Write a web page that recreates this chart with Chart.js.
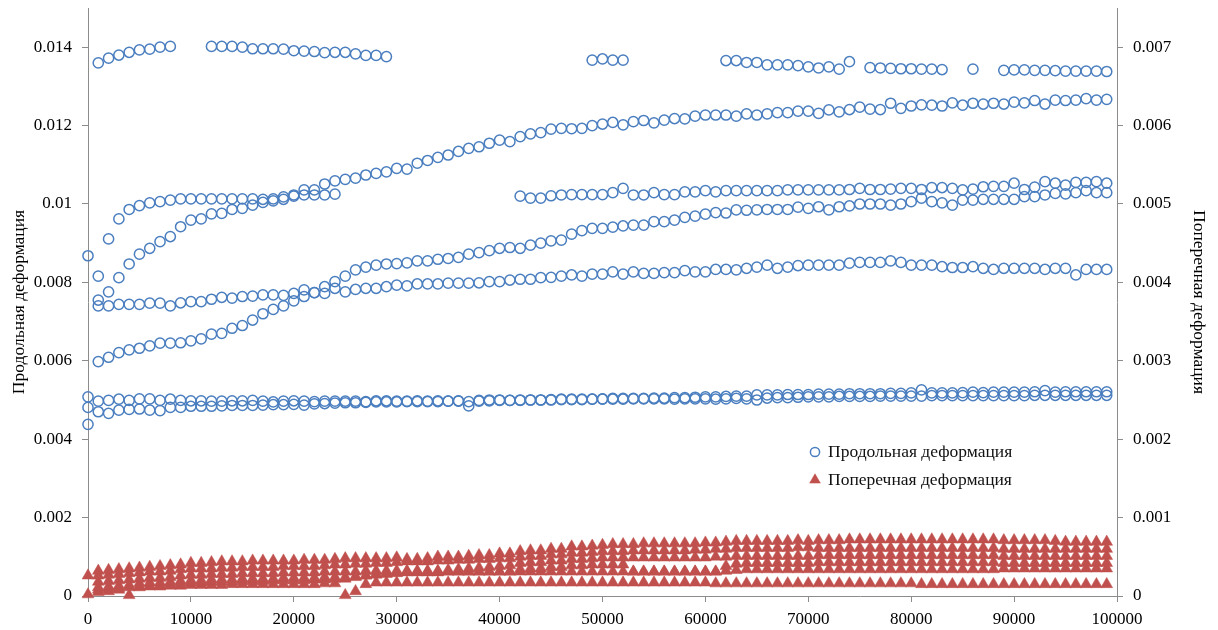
<!DOCTYPE html>
<html lang="ru">
<head>
<meta charset="utf-8">
<title>Продольная и поперечная деформация</title>
<script src="https://cdn.jsdelivr.net/npm/chart.js"></script>
<style>
  html, body { margin: 0; padding: 0; background: #ffffff; }
  canvas { display: block; }
</style>
</head>
<body>
<canvas id="strain" width="1218" height="630"></canvas>
<script>
// Number of load cycles (x axis)
const cycles = [
  0, 1000, 2000, 3000, 4000, 5000, 6000, 7000, 8000, 9000,
  10000, 11000, 12000, 13000, 14000, 15000, 16000, 17000, 18000, 19000,
  20000, 21000, 22000, 23000, 24000, 25000, 26000, 27000, 28000, 29000,
  30000, 31000, 32000, 33000, 34000, 35000, 36000, 37000, 38000, 39000,
  40000, 41000, 42000, 43000, 44000, 45000, 46000, 47000, 48000, 49000,
  50000, 51000, 52000, 53000, 54000, 55000, 56000, 57000, 58000, 59000,
  60000, 61000, 62000, 63000, 64000, 65000, 66000, 67000, 68000, 69000,
  70000, 71000, 72000, 73000, 74000, 75000, 76000, 77000, 78000, 79000,
  80000, 81000, 82000, 83000, 84000, 85000, 86000, 87000, 88000, 89000,
  90000, 91000, 92000, 93000, 94000, 95000, 96000, 97000, 98000, 99000
];

const xTicks = [0, 10000, 20000, 30000, 40000, 50000, 60000, 70000, 80000, 90000, 100000];
const leftTicks = [0, 0.002, 0.004, 0.006, 0.008, 0.01, 0.012, 0.014];
const rightTicks = [0, 0.001, 0.002, 0.003, 0.004, 0.005, 0.006, 0.007];

// Longitudinal strain, one array per specimen (null = no reading)
const longStrain1 = [
  null, 0.01360, 0.01372, 0.01380, 0.01387, 0.01393, 0.01395, 0.01400, 0.01402, null,
  null, null, 0.01402, 0.01402, 0.01402, 0.01400, 0.01396, 0.01396, 0.01396, 0.01395,
  0.01391, 0.01390, 0.01389, 0.01386, 0.01387, 0.01387, 0.01383, 0.01379, 0.01379, 0.01376,
  null, null, null, null, null, null, null, null, null, null,
  null, null, null, null, null, null, null, null, null, 0.01367,
  0.01370, 0.01367, 0.01367, null, null, null, null, null, null, null,
  null, null, 0.01366, 0.01366, 0.01361, 0.01361, 0.01355, 0.01355, 0.01355, 0.01353,
  0.01350, 0.01347, 0.01350, 0.01344, 0.01363, null, 0.01348, 0.01347, 0.01346, 0.01345,
  0.01345, 0.01344, 0.01344, 0.01343, null, null, 0.01344, null, null, 0.01341,
  0.01342, 0.01342, 0.01341, 0.01341, 0.01340, 0.01339, 0.01339, 0.01339, 0.01339, 0.01338
];
const longStrain2 = [
  0.00868, 0.00816, 0.00911, 0.00962, 0.00986, 0.00996, 0.01003, 0.01006, 0.01010, 0.01013,
  0.01013, 0.01013, 0.01013, 0.01013, 0.01013, 0.01013, 0.01013, 0.01012, 0.01013, 0.01018,
  0.01020, 0.01023, 0.01023, 0.01023, 0.01025, null, null, null, null, null,
  null, null, null, null, null, null, null, null, null, null,
  null, null, 0.01020, 0.01015, 0.01015, 0.01021, 0.01023, 0.01024, 0.01024, 0.01024,
  0.01024, 0.01029, 0.01040, 0.01023, 0.01023, 0.01029, 0.01024, 0.01024, 0.01031, 0.01031,
  0.01034, 0.01031, 0.01034, 0.01034, 0.01034, 0.01034, 0.01034, 0.01034, 0.01036, 0.01036,
  0.01036, 0.01036, 0.01036, 0.01036, 0.01037, 0.01040, 0.01037, 0.01037, 0.01038, 0.01040,
  0.01040, 0.01037, 0.01042, 0.01042, 0.01040, 0.01036, 0.01038, 0.01044, 0.01045, 0.01045,
  0.01053, 0.01037, 0.01043, 0.01057, 0.01053, 0.01048, 0.01055, 0.01055, 0.01057, 0.01053
];
const longStrain3 = [
  null, 0.00755, 0.00776, 0.00812, 0.00847, 0.00872, 0.00887, 0.00904, 0.00917, 0.00942,
  0.00959, 0.00962, 0.00975, 0.00976, 0.00986, 0.00989, 0.00997, 0.01004, 0.01008, 0.01012,
  0.01023, 0.01036, 0.01036, 0.01051, 0.01059, 0.01063, 0.01066, 0.01074, 0.01078, 0.01082,
  0.01091, 0.01089, 0.01104, 0.01111, 0.01119, 0.01125, 0.01134, 0.01142, 0.01146, 0.01155,
  0.01163, 0.01159, 0.01172, 0.01179, 0.01182, 0.01191, 0.01193, 0.01192, 0.01193, 0.01200,
  0.01204, 0.01208, 0.01202, 0.01210, 0.01213, 0.01207, 0.01214, 0.01218, 0.01217, 0.01224,
  0.01227, 0.01227, 0.01227, 0.01224, 0.01230, 0.01227, 0.01230, 0.01233, 0.01233, 0.01237,
  0.01237, 0.01231, 0.01240, 0.01235, 0.01241, 0.01247, 0.01242, 0.01241, 0.01257, 0.01244,
  0.01250, 0.01253, 0.01252, 0.01250, 0.01258, 0.01252, 0.01257, 0.01255, 0.01257, 0.01255,
  0.01260, 0.01258, 0.01264, 0.01255, 0.01265, 0.01264, 0.01265, 0.01269, 0.01265, 0.01267
];
const longStrain4 = [
  null, 0.00740, 0.00740, 0.00744, 0.00744, 0.00744, 0.00747, 0.00747, 0.00740, 0.00748,
  0.00751, 0.00751, 0.00757, 0.00762, 0.00760, 0.00764, 0.00765, 0.00768, 0.00768, 0.00767,
  0.00772, 0.00781, 0.00774, 0.00772, 0.00785, 0.00776, 0.00782, 0.00785, 0.00785, 0.00789,
  0.00793, 0.00791, 0.00796, 0.00796, 0.00796, 0.00798, 0.00798, 0.00798, 0.00799, 0.00802,
  0.00802, 0.00806, 0.00808, 0.00808, 0.00812, 0.00813, 0.00816, 0.00819, 0.00816, 0.00821,
  0.00821, 0.00827, 0.00821, 0.00827, 0.00823, 0.00823, 0.00825, 0.00825, 0.00830, 0.00827,
  0.00827, 0.00833, 0.00833, 0.00832, 0.00836, 0.00839, 0.00844, 0.00836, 0.00839, 0.00843,
  0.00844, 0.00844, 0.00844, 0.00844, 0.00849, 0.00851, 0.00851, 0.00851, 0.00855, 0.00851,
  0.00844, 0.00844, 0.00844, 0.00840, 0.00838, 0.00838, 0.00840, 0.00836, 0.00833, 0.00836,
  0.00836, 0.00836, 0.00836, 0.00833, 0.00836, 0.00836, 0.00819, 0.00833, 0.00833, 0.00833
];
const longStrain5 = [
  null, 0.00598, 0.00609, 0.00621, 0.00628, 0.00632, 0.00638, 0.00645, 0.00645, 0.00646,
  0.00651, 0.00656, 0.00668, 0.00670, 0.00683, 0.00690, 0.00704, 0.00720, 0.00731, 0.00740,
  0.00753, 0.00764, 0.00774, 0.00789, 0.00802, 0.00816, 0.00832, 0.00839, 0.00844, 0.00847,
  0.00848, 0.00850, 0.00855, 0.00855, 0.00859, 0.00861, 0.00864, 0.00872, 0.00876, 0.00881,
  0.00887, 0.00889, 0.00887, 0.00895, 0.00900, 0.00906, 0.00908, 0.00923, 0.00932, 0.00938,
  0.00938, 0.00941, 0.00944, 0.00946, 0.00946, 0.00955, 0.00955, 0.00959, 0.00966, 0.00969,
  0.00974, 0.00978, 0.00977, 0.00985, 0.00984, 0.00985, 0.00986, 0.00986, 0.00986, 0.00992,
  0.00989, 0.00993, 0.00985, 0.00993, 0.00995, 0.01000, 0.01000, 0.01000, 0.00997, 0.01000,
  0.01006, 0.01015, 0.01006, 0.01003, 0.00997, 0.01010, 0.01010, 0.01012, 0.01012, 0.01012,
  0.01012, 0.01019, 0.01019, 0.01023, 0.01027, 0.01026, 0.01029, 0.01034, 0.01029, 0.01029
];
const longStrain6 = [
  0.00508, 0.00497, 0.00499, 0.00502, 0.00499, 0.00503, 0.00503, 0.00499, 0.00502, 0.00499,
  0.00498, 0.00498, 0.00497, 0.00497, 0.00498, 0.00498, 0.00499, 0.00497, 0.00495, 0.00497,
  0.00498, 0.00497, 0.00496, 0.00497, 0.00497, 0.00497, 0.00497, 0.00496, 0.00498, 0.00498,
  0.00497, 0.00497, 0.00498, 0.00497, 0.00498, 0.00497, 0.00498, 0.00496, 0.00499, 0.00500,
  0.00500, 0.00499, 0.00500, 0.00500, 0.00500, 0.00501, 0.00502, 0.00502, 0.00502, 0.00502,
  0.00503, 0.00504, 0.00504, 0.00504, 0.00504, 0.00505, 0.00505, 0.00506, 0.00506, 0.00507,
  0.00508, 0.00508, 0.00509, 0.00510, 0.00510, 0.00513, 0.00513, 0.00513, 0.00514, 0.00514,
  0.00514, 0.00515, 0.00515, 0.00515, 0.00516, 0.00516, 0.00516, 0.00516, 0.00517, 0.00517,
  0.00518, 0.00526, 0.00518, 0.00518, 0.00518, 0.00519, 0.00520, 0.00519, 0.00520, 0.00520,
  0.00520, 0.00520, 0.00521, 0.00524, 0.00520, 0.00521, 0.00521, 0.00521, 0.00521, 0.00521
];
const longStrain7 = [
  0.00481, 0.00470, 0.00466, 0.00474, 0.00476, 0.00477, 0.00474, 0.00473, 0.00481, 0.00481,
  0.00484, 0.00484, 0.00484, 0.00485, 0.00486, 0.00486, 0.00486, 0.00487, 0.00488, 0.00488,
  0.00489, 0.00487, 0.00490, 0.00491, 0.00492, 0.00493, 0.00493, 0.00494, 0.00495, 0.00495,
  0.00495, 0.00496, 0.00496, 0.00496, 0.00496, 0.00497, 0.00497, 0.00485, 0.00497, 0.00498,
  0.00499, 0.00499, 0.00499, 0.00500, 0.00500, 0.00500, 0.00501, 0.00501, 0.00501, 0.00502,
  0.00502, 0.00502, 0.00502, 0.00503, 0.00503, 0.00503, 0.00503, 0.00502, 0.00503, 0.00503,
  0.00503, 0.00502, 0.00503, 0.00504, 0.00503, 0.00500, 0.00505, 0.00506, 0.00506, 0.00507,
  0.00508, 0.00508, 0.00508, 0.00509, 0.00509, 0.00509, 0.00509, 0.00510, 0.00510, 0.00510,
  0.00510, 0.00510, 0.00511, 0.00511, 0.00511, 0.00511, 0.00511, 0.00511, 0.00511, 0.00511,
  0.00511, 0.00511, 0.00512, 0.00512, 0.00512, 0.00512, 0.00512, 0.00512, 0.00512, 0.00512
];
const longStrain8 = [0.00438];

// Transverse strain, one array per specimen (right axis)
const transStrain1 = [
  0.00026, 0.00032, 0.00033, 0.00034, 0.00035, 0.00036, 0.00037, 0.00038, 0.00039, 0.00040,
  0.00042, 0.00042, 0.00043, 0.00044, 0.00044, 0.00044, 0.00045, 0.00045, 0.00045, 0.00045,
  0.00045, 0.00046, 0.00046, 0.00046, 0.00047, 0.00048, 0.00048, 0.00048, 0.00048, 0.00048,
  0.00049, 0.00047, 0.00047, 0.00048, 0.00050, 0.00050, 0.00050, 0.00051, 0.00052, 0.00052,
  0.00054, 0.00054, 0.00057, 0.00058, 0.00058, 0.00060, 0.00060, 0.00063, 0.00063, 0.00064,
  0.00065, 0.00066, 0.00066, 0.00066, 0.00067, 0.00067, 0.00067, 0.00067, 0.00067, 0.00067,
  0.00068, 0.00068, 0.00069, 0.00070, 0.00070, 0.00070, 0.00070, 0.00070, 0.00070, 0.00071,
  0.00070, 0.00071, 0.00071, 0.00071, 0.00072, 0.00072, 0.00072, 0.00072, 0.00072, 0.00072,
  0.00072, 0.00072, 0.00072, 0.00072, 0.00072, 0.00072, 0.00072, 0.00072, 0.00072, 0.00071,
  0.00071, 0.00071, 0.00071, 0.00071, 0.00070, 0.00069, 0.00069, 0.00069, 0.00069, 0.00069
];
const transStrain2 = [
  null, 0.00026, 0.00027, 0.00028, 0.00029, 0.00030, 0.00031, 0.00031, 0.00032, 0.00034,
  0.00035, 0.00035, 0.00035, 0.00036, 0.00036, 0.00037, 0.00037, 0.00037, 0.00037, 0.00038,
  0.00038, 0.00038, 0.00038, 0.00039, 0.00040, 0.00040, 0.00041, 0.00041, 0.00042, 0.00042,
  0.00043, 0.00044, 0.00044, 0.00044, 0.00045, 0.00045, 0.00046, 0.00046, 0.00047, 0.00047,
  0.00048, 0.00048, 0.00050, 0.00051, 0.00051, 0.00053, 0.00053, 0.00055, 0.00055, 0.00056,
  0.00057, 0.00057, 0.00057, 0.00058, 0.00058, 0.00058, 0.00058, 0.00058, 0.00058, 0.00059,
  0.00059, 0.00060, 0.00060, 0.00061, 0.00061, 0.00061, 0.00061, 0.00061, 0.00061, 0.00062,
  0.00062, 0.00061, 0.00061, 0.00061, 0.00061, 0.00061, 0.00061, 0.00061, 0.00061, 0.00061,
  0.00061, 0.00061, 0.00061, 0.00061, 0.00061, 0.00061, 0.00061, 0.00061, 0.00061, 0.00060,
  0.00060, 0.00060, 0.00060, 0.00060, 0.00060, 0.00060, 0.00060, 0.00060, 0.00060, 0.00060
];
const transStrain3 = [
  null, 0.00018, 0.00019, 0.00020, 0.00021, 0.00022, 0.00023, 0.00023, 0.00024, 0.00026,
  0.00027, 0.00027, 0.00028, 0.00028, 0.00028, 0.00029, 0.00029, 0.00029, 0.00029, 0.00030,
  0.00030, 0.00030, 0.00030, 0.00031, 0.00031, 0.00031, 0.00031, 0.00032, 0.00032, 0.00032,
  0.00032, 0.00032, 0.00032, 0.00032, 0.00032, 0.00033, 0.00034, 0.00035, 0.00036, 0.00037,
  0.00038, 0.00039, 0.00042, 0.00043, 0.00043, 0.00045, 0.00045, 0.00047, 0.00047, 0.00048,
  0.00049, 0.00049, 0.00049, 0.00049, 0.00049, 0.00049, 0.00049, 0.00049, 0.00049, 0.00049,
  0.00049, 0.00050, 0.00050, 0.00051, 0.00051, 0.00051, 0.00051, 0.00051, 0.00051, 0.00051,
  0.00051, 0.00052, 0.00052, 0.00052, 0.00052, 0.00052, 0.00052, 0.00052, 0.00052, 0.00052,
  0.00052, 0.00052, 0.00052, 0.00052, 0.00052, 0.00052, 0.00052, 0.00052, 0.00052, 0.00051,
  0.00051, 0.00051, 0.00051, 0.00051, 0.00051, 0.00051, 0.00051, 0.00051, 0.00051, 0.00051
];
const transStrain4 = [
  null, 0.00011, 0.00012, 0.00013, 0.00014, 0.00016, 0.00017, 0.00017, 0.00018, 0.00019,
  0.00020, 0.00020, 0.00021, 0.00021, 0.00021, 0.00022, 0.00022, 0.00022, 0.00022, 0.00023,
  0.00023, 0.00023, 0.00023, 0.00024, 0.00024, 0.00024, 0.00025, 0.00026, 0.00027, 0.00028,
  0.00029, 0.00030, 0.00030, 0.00030, 0.00030, 0.00031, 0.00031, 0.00031, 0.00031, 0.00031,
  0.00031, 0.00031, 0.00034, 0.00035, 0.00035, 0.00037, 0.00037, 0.00039, 0.00039, 0.00040,
  0.00040, 0.00040, 0.00040, 0.00031, 0.00031, 0.00031, 0.00031, 0.00031, 0.00031, 0.00031,
  0.00031, 0.00031, 0.00038, 0.00041, 0.00042, 0.00042, 0.00042, 0.00042, 0.00042, 0.00042,
  0.00042, 0.00043, 0.00043, 0.00043, 0.00043, 0.00043, 0.00043, 0.00043, 0.00043, 0.00043,
  0.00043, 0.00043, 0.00043, 0.00043, 0.00043, 0.00043, 0.00043, 0.00043, 0.00043, 0.00042,
  0.00042, 0.00042, 0.00042, 0.00042, 0.00042, 0.00042, 0.00042, 0.00042, 0.00042, 0.00042
];
const transStrain5 = [
  null, 0.00008, 0.00009, 0.00010, 0.00011, 0.00012, 0.00013, 0.00014, 0.00015, 0.00016,
  0.00017, 0.00017, 0.00018, 0.00018, 0.00018, 0.00019, 0.00019, 0.00019, 0.00020, 0.00020,
  0.00020, 0.00020, 0.00021, 0.00021, 0.00022, 0.00022, 0.00024, 0.00026, 0.00028, 0.00029,
  0.00030, 0.00031, 0.00031, 0.00031, 0.00031, 0.00031, 0.00031, 0.00031, 0.00031, 0.00031,
  0.00031, 0.00031, 0.00031, 0.00031, 0.00031, 0.00031, 0.00031, 0.00031, 0.00031, 0.00031,
  0.00031, 0.00031, 0.00031, 0.00031, 0.00031, 0.00031, 0.00031, 0.00031, 0.00031, 0.00031,
  0.00031, 0.00031, 0.00032, 0.00033, 0.00034, 0.00034, 0.00034, 0.00034, 0.00034, 0.00034,
  0.00034, 0.00034, 0.00034, 0.00034, 0.00034, 0.00034, 0.00034, 0.00034, 0.00034, 0.00034,
  0.00034, 0.00034, 0.00034, 0.00034, 0.00034, 0.00034, 0.00034, 0.00034, 0.00034, 0.00035,
  0.00035, 0.00035, 0.00035, 0.00035, 0.00035, 0.00035, 0.00035, 0.00035, 0.00035, 0.00035
];
const transStrain6 = [
  0.00002, 0.00005, 0.00006, 0.00008, 0.00001, 0.00011, 0.00012, 0.00012, 0.00013, 0.00013,
  0.00014, 0.00014, 0.00014, 0.00014, 0.00015, 0.00015, 0.00015, 0.00015, 0.00015, 0.00015,
  0.00015, 0.00015, 0.00015, 0.00016, 0.00016, 0.00001, 0.00006, 0.00015, 0.00017, 0.00017,
  0.00017, 0.00017, 0.00017, 0.00017, 0.00017, 0.00017, 0.00017, 0.00017, 0.00017, 0.00017,
  0.00017, 0.00017, 0.00017, 0.00017, 0.00017, 0.00017, 0.00017, 0.00017, 0.00017, 0.00017,
  0.00017, 0.00017, 0.00017, 0.00017, 0.00017, 0.00017, 0.00017, 0.00017, 0.00017, 0.00017,
  0.00017, 0.00016, 0.00016, 0.00016, 0.00016, 0.00016, 0.00016, 0.00016, 0.00016, 0.00016,
  0.00016, 0.00016, 0.00016, 0.00016, 0.00016, 0.00016, 0.00016, 0.00016, 0.00016, 0.00016,
  0.00016, 0.00015, 0.00015, 0.00015, 0.00015, 0.00015, 0.00015, 0.00015, 0.00015, 0.00015,
  0.00015, 0.00015, 0.00015, 0.00015, 0.00015, 0.00015, 0.00015, 0.00015, 0.00015, 0.00015
];

const longLabel = 'Продольная деформация';
const transLabel = 'Поперечная деформация';
const longColor = '#4a7ebf';
const transColor = '#c0504d';
const serif = '"Liberation Serif", "Times New Roman", Times, serif';

function toPoints(values) {
  const pts = [];
  values.forEach((v, i) => { if (v !== null) pts.push({ x: cycles[i], y: v }); });
  return pts;
}

function longSet(values) {
  return {
    label: longLabel, data: toPoints(values), yAxisID: 'yL',
    pointStyle: 'circle', pointRadius: 5.1, borderWidth: 1.5,
    borderColor: longColor, backgroundColor: 'rgba(0,0,0,0)', clip: false
  };
}
function transSet(values) {
  return {
    label: transLabel, data: toPoints(values), yAxisID: 'yR',
    pointStyle: 'triangle', pointRadius: 6.8, borderWidth: 0.5,
    borderColor: transColor, backgroundColor: transColor, clip: false
  };
}

const datasets = [
  longSet(longStrain1), longSet(longStrain2), longSet(longStrain3), longSet(longStrain4),
  longSet(longStrain5), longSet(longStrain6), longSet(longStrain7), longSet(longStrain8),
  transSet(transStrain1), transSet(transStrain2), transSet(transStrain3),
  transSet(transStrain4), transSet(transStrain5), transSet(transStrain6)
];

// Legend drawn inside the plot area, one entry per series label
const insideLegend = {
  id: 'insideLegend',
  afterDatasetsDraw(chart) {
    const { ctx, chartArea } = chart;
    const seen = new Set();
    const entries = [];
    chart.data.datasets.forEach(ds => {
      if (!seen.has(ds.label)) { seen.add(ds.label); entries.push(ds); }
    });
    const x0 = chartArea.right - 302;
    const y0 = chartArea.top + 444;
    ctx.save();
    entries.forEach((ds, i) => {
      const y = y0 + i * 28;
      ctx.fillStyle = ds.backgroundColor;
      ctx.strokeStyle = ds.borderColor;
      ctx.lineWidth = ds.borderWidth;
      Chart.helpers.drawPoint(ctx, {
        pointStyle: ds.pointStyle,
        radius: ds.pointStyle === 'circle' ? 4.6 : 6.2,
        borderWidth: ds.borderWidth, rotation: 0
      }, x0, y);
      ctx.fillStyle = '#111111';
      ctx.font = '17.5px ' + serif;
      ctx.textAlign = 'left';
      ctx.textBaseline = 'middle';
      ctx.fillText(ds.label, x0 + 13, y);
    });
    ctx.restore();
  }
};

const fmt = v => String(parseFloat(Number(v).toFixed(6)));
const axisGray = '#8c8c8c';

new Chart(document.getElementById('strain'), {
  type: 'scatter',
  data: { datasets },
  options: {
    responsive: false,
    animation: false,
    devicePixelRatio: 1,
    layout: { padding: { top: 8, left: 0, right: 0, bottom: 0 } },
    plugins: { legend: { display: false }, tooltip: { enabled: false } },
    font: { family: serif },
    scales: {
      x: {
        type: 'linear', position: 'bottom', min: 0, max: 100000,
        afterBuildTicks: s => { s.ticks = xTicks.map(v => ({ value: v })); },
        ticks: { callback: v => String(v), color: '#000', font: { family: serif, size: 17 },
                 padding: 7, maxRotation: 0, autoSkip: false },
        grid: { display: true, drawOnChartArea: false, drawTicks: true, tickLength: 6, color: axisGray },
        border: { display: true, color: axisGray, width: 1 },
        afterFit: s => { s.height = 34; s.paddingLeft = 0; s.paddingRight = 0; }
      },
      yL: {
        type: 'linear', position: 'left', min: 0, max: 0.015,
        afterBuildTicks: s => { s.ticks = leftTicks.map(v => ({ value: v })); },
        ticks: { callback: fmt, color: '#000', font: { family: serif, size: 17 }, padding: 10 },
        title: { display: true, text: longLabel, color: '#000',
                 font: { family: serif, size: 17.5 }, padding: { top: 9, bottom: 0 } },
        grid: { display: true, drawOnChartArea: false, drawTicks: true, tickLength: 6, color: axisGray },
        border: { display: true, color: axisGray, width: 1 },
        afterFit: s => { s.width = 88; s.paddingTop = 0; s.paddingBottom = 0; }
      },
      yR: {
        type: 'linear', position: 'right', min: 0, max: 0.0075,
        afterBuildTicks: s => { s.ticks = rightTicks.map(v => ({ value: v })); },
        ticks: { callback: fmt, color: '#000', font: { family: serif, size: 17 }, padding: 10 },
        title: { display: true, text: transLabel, color: '#000',
                 font: { family: serif, size: 17.5 }, padding: { top: 9, bottom: 0 } },
        grid: { display: true, drawOnChartArea: false, drawTicks: true, tickLength: 6, color: axisGray },
        border: { display: true, color: axisGray, width: 1 },
        afterFit: s => { s.width = 101; s.paddingTop = 0; s.paddingBottom = 0; }
      }
    }
  },
  plugins: [insideLegend]
});
</script>
</body>
</html>
